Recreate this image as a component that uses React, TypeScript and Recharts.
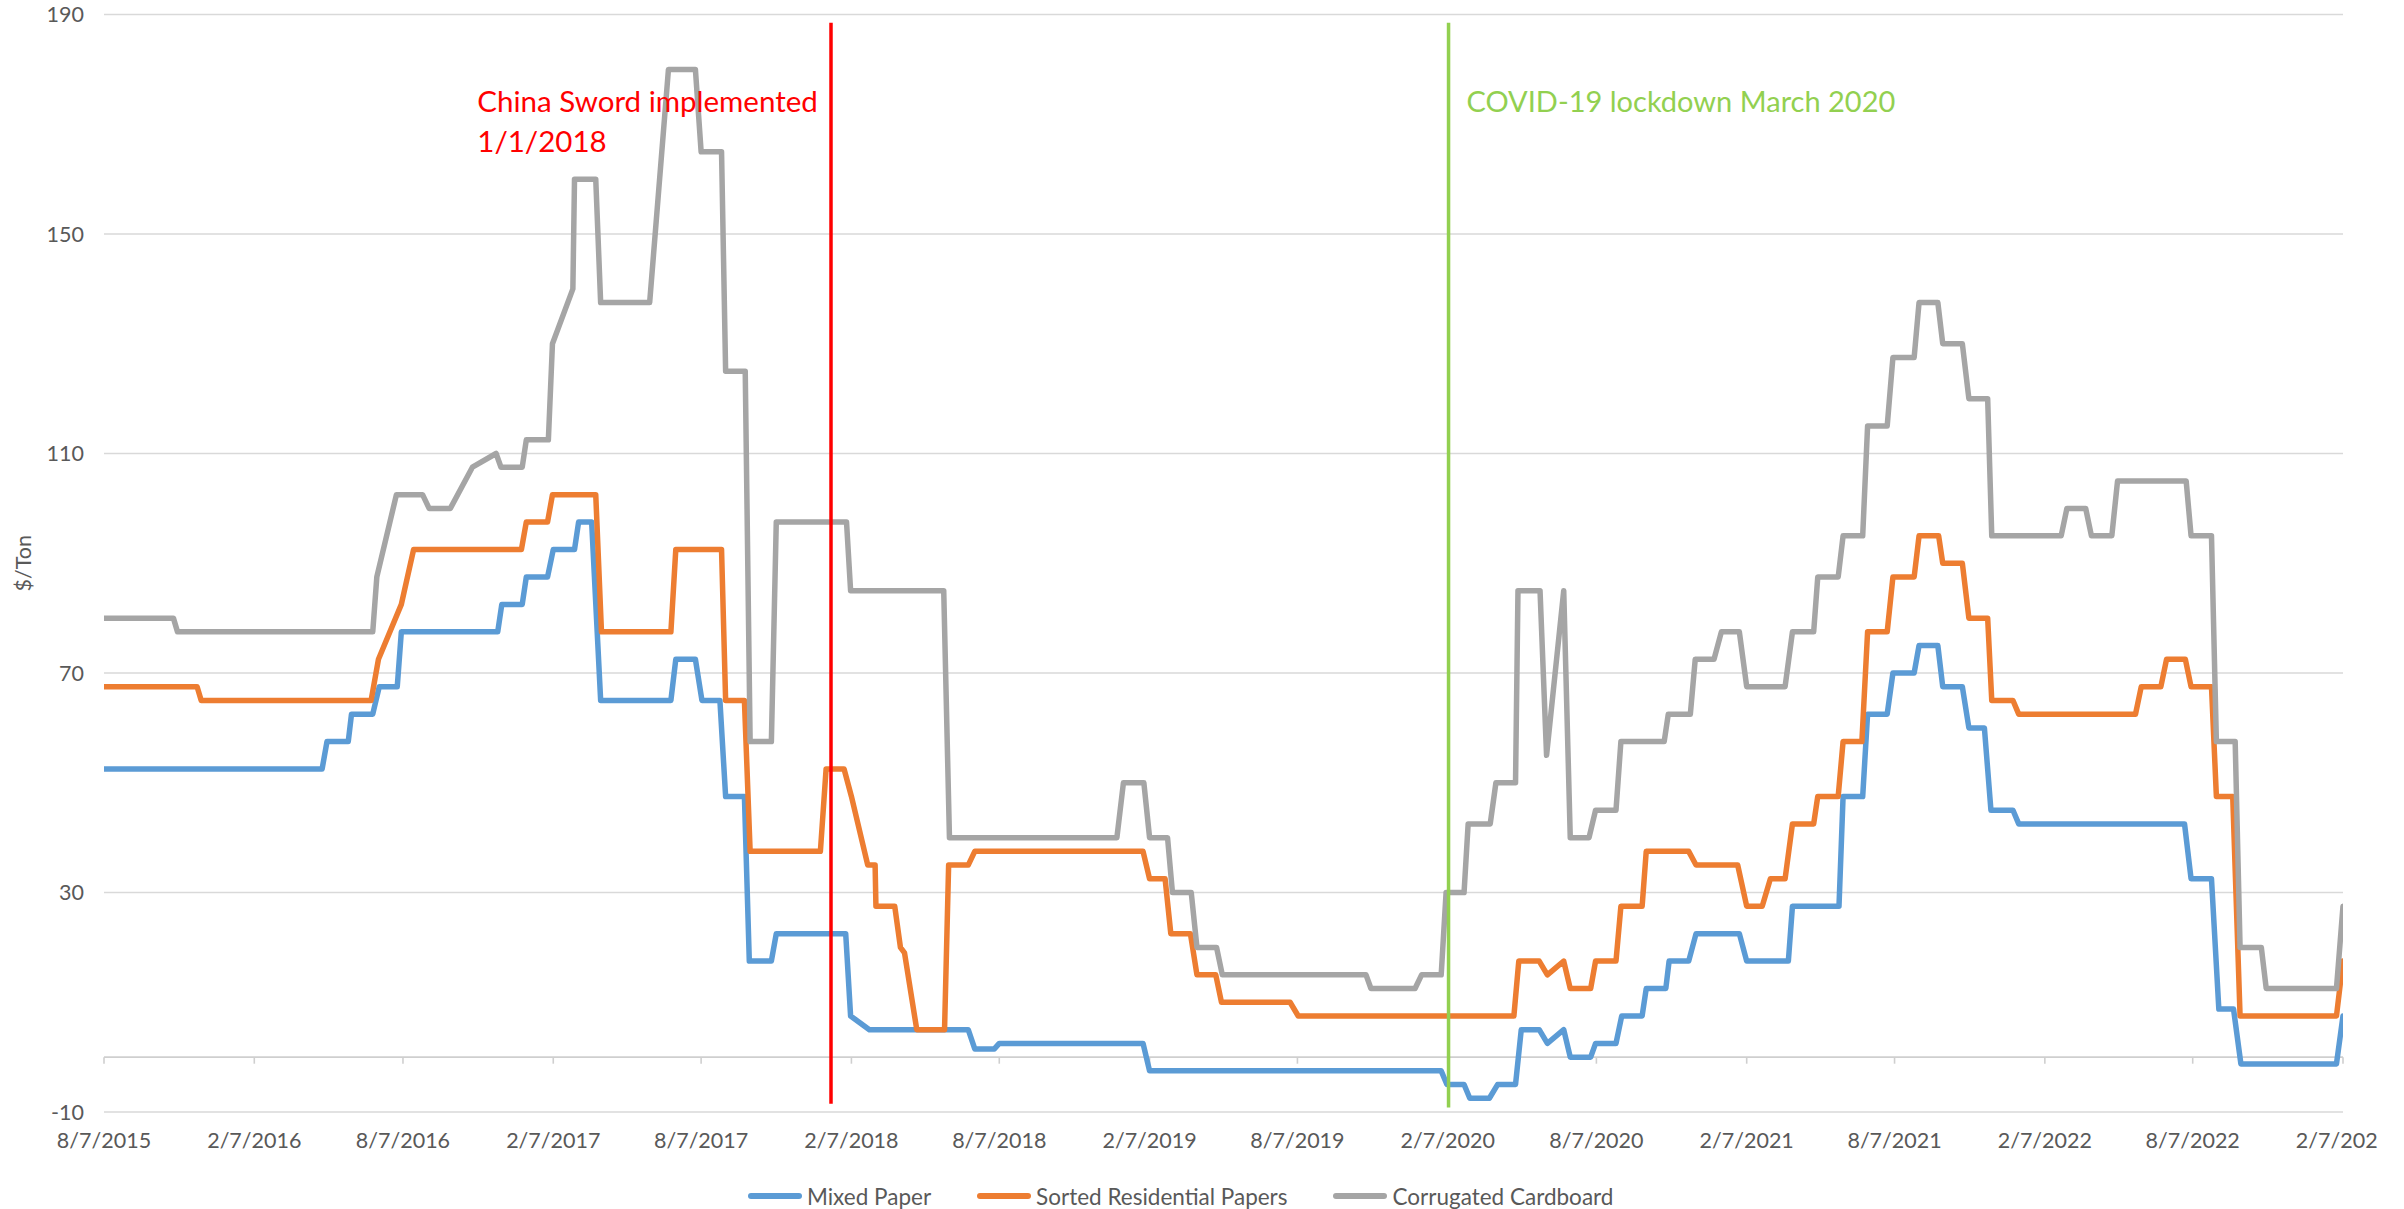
import React from "react";
import {
  LineChart,
  Line,
  XAxis,
  YAxis,
  CartesianGrid,
  Legend,
  ReferenceLine,
  ReferenceDot,
} from "recharts";

// [date, $/ton] vertices
const corrugatedRows: [string, number][] = [
  ["2015-08-07", 80], ["2015-10-31", 80], ["2015-11-05", 77.5], ["2016-07-01", 77.5],
  ["2016-07-06", 87.5], ["2016-07-30", 102.5], ["2016-08-31", 102.5], ["2016-09-08", 100],
  ["2016-10-04", 100], ["2016-10-31", 107.5], ["2016-11-29", 110], ["2016-12-05", 107.5],
  ["2016-12-31", 107.5], ["2017-01-05", 112.5], ["2017-02-01", 112.5], ["2017-02-06", 130],
  ["2017-03-03", 140], ["2017-03-05", 160], ["2017-03-31", 160], ["2017-04-06", 137.5],
  ["2017-06-05", 137.5], ["2017-06-28", 180], ["2017-07-31", 180], ["2017-08-07", 165],
  ["2017-09-01", 165], ["2017-09-06", 125], ["2017-09-30", 125], ["2017-10-06", 57.5],
  ["2017-11-01", 57.5], ["2017-11-07", 97.5], ["2018-02-01", 97.5], ["2018-02-06", 85],
  ["2018-05-31", 85], ["2018-06-07", 40], ["2018-12-29", 40], ["2019-01-06", 50],
  ["2019-01-31", 50], ["2019-02-07", 40], ["2019-03-01", 40], ["2019-03-07", 30],
  ["2019-03-30", 30], ["2019-04-06", 20], ["2019-04-30", 20], ["2019-05-07", 15],
  ["2019-10-30", 15], ["2019-11-05", 12.5], ["2019-12-29", 12.5], ["2020-01-06", 15],
  ["2020-01-30", 15], ["2020-02-05", 30], ["2020-02-27", 30], ["2020-03-03", 42.5],
  ["2020-03-30", 42.5], ["2020-04-06", 50], ["2020-04-30", 50], ["2020-05-03", 85],
  ["2020-05-30", 85], ["2020-06-07", 55], ["2020-06-28", 85], ["2020-07-06", 40],
  ["2020-07-29", 40], ["2020-08-06", 45], ["2020-08-31", 45], ["2020-09-06", 57.5],
  ["2020-10-29", 57.5], ["2020-11-03", 62.5], ["2020-11-30", 62.5], ["2020-12-06", 72.5],
  ["2020-12-29", 72.5], ["2021-01-07", 77.5], ["2021-01-29", 77.5], ["2021-02-07", 67.5],
  ["2021-03-26", 67.5], ["2021-04-04", 77.5], ["2021-04-30", 77.5], ["2021-05-05", 87.5],
  ["2021-05-30", 87.5], ["2021-06-05", 95], ["2021-06-29", 95], ["2021-07-05", 115],
  ["2021-07-29", 115], ["2021-08-05", 127.5], ["2021-08-31", 127.5], ["2021-09-06", 137.5],
  ["2021-09-29", 137.5], ["2021-10-05", 130], ["2021-10-29", 130], ["2021-11-06", 120],
  ["2021-11-29", 120], ["2021-12-04", 95], ["2022-02-27", 95], ["2022-03-06", 100],
  ["2022-03-29", 100], ["2022-04-05", 95], ["2022-04-30", 95], ["2022-05-07", 105],
  ["2022-07-30", 105], ["2022-08-05", 95], ["2022-08-30", 95], ["2022-09-05", 57.5],
  ["2022-09-28", 57.5], ["2022-10-04", 20], ["2022-10-30", 20], ["2022-11-05", 12.5],
  ["2023-01-30", 12.5], ["2023-02-07", 27.5],
];

const sortedRows: [string, number][] = [
  ["2015-08-07", 67.5], ["2015-11-29", 67.5], ["2015-12-04", 65], ["2016-06-29", 65],
  ["2016-07-08", 72.5], ["2016-08-05", 82.5], ["2016-08-20", 92.5], ["2016-12-30", 92.5],
  ["2017-01-05", 97.5], ["2017-01-31", 97.5], ["2017-02-06", 102.5], ["2017-03-31", 102.5],
  ["2017-04-07", 77.5], ["2017-07-01", 77.5], ["2017-07-07", 92.5], ["2017-09-01", 92.5],
  ["2017-09-06", 65], ["2017-09-29", 65], ["2017-10-06", 37.5], ["2017-12-31", 37.5],
  ["2018-01-07", 52.5], ["2018-01-29", 52.5], ["2018-02-07", 47.5], ["2018-02-27", 35],
  ["2018-03-08", 35], ["2018-03-09", 27.5], ["2018-04-01", 27.5], ["2018-04-08", 20],
  ["2018-04-13", 19], ["2018-04-28", 5], ["2018-06-01", 5], ["2018-06-06", 35],
  ["2018-06-30", 35], ["2018-07-08", 37.5], ["2019-01-30", 37.5], ["2019-02-07", 32.5],
  ["2019-02-26", 32.5], ["2019-03-05", 22.5], ["2019-03-29", 22.5], ["2019-04-06", 15],
  ["2019-04-29", 15], ["2019-05-06", 10], ["2019-07-29", 10], ["2019-08-08", 7.5],
  ["2020-04-28", 7.5], ["2020-05-04", 17.5], ["2020-05-29", 17.5], ["2020-06-08", 15],
  ["2020-06-28", 17.5], ["2020-07-06", 12.5], ["2020-07-31", 12.5], ["2020-08-06", 17.5],
  ["2020-08-31", 17.5], ["2020-09-06", 27.5], ["2020-10-02", 27.5], ["2020-10-07", 37.5],
  ["2020-11-28", 37.5], ["2020-12-07", 35], ["2021-01-27", 35], ["2021-02-07", 27.5],
  ["2021-02-26", 27.5], ["2021-03-08", 32.5], ["2021-03-26", 32.5], ["2021-04-04", 42.5],
  ["2021-04-30", 42.5], ["2021-05-05", 47.5], ["2021-05-30", 47.5], ["2021-06-05", 57.5],
  ["2021-06-28", 57.5], ["2021-07-05", 77.5], ["2021-07-29", 77.5], ["2021-08-05", 87.5],
  ["2021-08-31", 87.5], ["2021-09-06", 95], ["2021-09-30", 95], ["2021-10-05", 90],
  ["2021-10-29", 90], ["2021-11-06", 80], ["2021-11-29", 80], ["2021-12-04", 65],
  ["2021-12-30", 65], ["2022-01-06", 62.5], ["2022-05-29", 62.5], ["2022-06-05", 67.5],
  ["2022-06-29", 67.5], ["2022-07-06", 72.5], ["2022-07-29", 72.5], ["2022-08-05", 67.5],
  ["2022-08-30", 67.5], ["2022-09-05", 47.5], ["2022-09-25", 47.5], ["2022-10-04", 7.5],
  ["2023-01-30", 7.5], ["2023-02-07", 17.5],
];

const mixedRows: [string, number][] = [
  ["2015-08-07", 52.5], ["2016-04-30", 52.5], ["2016-05-06", 57.5], ["2016-06-01", 57.5],
  ["2016-06-05", 62.5], ["2016-07-01", 62.5], ["2016-07-09", 67.5], ["2016-07-31", 67.5],
  ["2016-08-05", 77.5], ["2016-12-01", 77.5], ["2016-12-06", 82.5], ["2016-12-31", 82.5],
  ["2017-01-05", 87.5], ["2017-01-31", 87.5], ["2017-02-07", 92.5], ["2017-03-05", 92.5],
  ["2017-03-10", 97.5], ["2017-03-26", 97.5], ["2017-04-06", 65], ["2017-07-01", 65],
  ["2017-07-07", 72.5], ["2017-07-31", 72.5], ["2017-08-08", 65], ["2017-08-30", 65],
  ["2017-09-06", 47.5], ["2017-09-29", 47.5], ["2017-10-05", 17.5], ["2017-11-01", 17.5],
  ["2017-11-07", 22.5], ["2018-01-31", 22.5], ["2018-02-06", 7.5], ["2018-03-01", 5],
  ["2018-06-30", 5], ["2018-07-08", 1.5], ["2018-08-01", 1.5], ["2018-08-07", 2.5],
  ["2019-01-30", 2.5], ["2019-02-07", -2.5], ["2020-01-30", -2.5], ["2020-02-06", -5],
  ["2020-02-27", -5], ["2020-03-05", -7.5], ["2020-03-29", -7.5], ["2020-04-08", -5],
  ["2020-04-30", -5], ["2020-05-07", 5], ["2020-05-29", 5], ["2020-06-08", 2.5],
  ["2020-06-28", 5], ["2020-07-06", 0], ["2020-07-31", 0], ["2020-08-06", 2.5],
  ["2020-08-31", 2.5], ["2020-09-07", 7.5], ["2020-10-02", 7.5], ["2020-10-07", 12.5],
  ["2020-10-31", 12.5], ["2020-11-04", 17.5], ["2020-11-28", 17.5], ["2020-12-07", 22.5],
  ["2021-01-29", 22.5], ["2021-02-07", 17.5], ["2021-03-30", 17.5], ["2021-04-04", 27.5],
  ["2021-05-31", 27.5], ["2021-06-05", 47.5], ["2021-06-29", 47.5], ["2021-07-05", 62.5],
  ["2021-07-29", 62.5], ["2021-08-05", 70], ["2021-08-31", 70], ["2021-09-06", 75],
  ["2021-09-29", 75], ["2021-10-05", 67.5], ["2021-10-29", 67.5], ["2021-11-06", 60],
  ["2021-11-25", 60], ["2021-12-03", 45], ["2021-12-30", 45], ["2022-01-06", 42.5],
  ["2022-07-28", 42.5], ["2022-08-05", 32.5], ["2022-08-30", 32.5], ["2022-09-08", 8.75],
  ["2022-09-26", 8.75], ["2022-10-05", -1.25], ["2023-01-30", -1.25], ["2023-02-07", 7.5],
];

const seriesNames = ["Mixed Paper", "Sorted Residential Papers", "Corrugated Cardboard"];
const seriesColors = ["#5B9BD5", "#ED7D31", "#A5A5A5"];

const tickDates = [
  "2015-08-07", "2016-02-07", "2016-08-07", "2017-02-07", "2017-08-07", "2018-02-07",
  "2018-08-07", "2019-02-07", "2019-08-07", "2020-02-07", "2020-08-07", "2021-02-07",
  "2021-08-07", "2022-02-07", "2022-08-07", "2023-02-07",
];
const yTicks = [-10, 30, 70, 110, 150, 190];

const swordDate = "2018-01-13";
const covidDate = "2020-02-08";

const toTime = (d: string) => Date.parse(d);
const toPoints = (rows: [string, number][]) => rows.map(([d, v]) => ({ t: toTime(d), v }));

const seriesData = [toPoints(mixedRows), toPoints(sortedRows), toPoints(corrugatedRows)];
const ticks = tickDates.map(toTime);

const GREY_TEXT = "#595959";
const GRID = "#d9d9d9";
const FONT = 21.5;

function fmtDate(t: number) {
  const d = new Date(t);
  return `${d.getUTCMonth() + 1}/${d.getUTCDate()}/${d.getUTCFullYear()}`;
}

function LegendContent(props: any) {
  const { payload = [] } = props;
  const items = [...payload].sort(
    (a: any, b: any) => seriesNames.indexOf(a.value) - seriesNames.indexOf(b.value)
  );
  return (
    <div style={{ display: "flex", alignItems: "center", height: 40, paddingLeft: 748 }}>
      {items.map((p: any) => (
        <div key={p.value} style={{ display: "flex", alignItems: "center", marginRight: 46 }}>
          <svg width={54} height={10}>
            <line x1={3} x2={51} y1={5} y2={5} stroke={p.color} strokeWidth={6} strokeLinecap='round' />
          </svg>
          <span style={{ marginLeft: 5, fontSize: 22.5, color: GREY_TEXT }}>{p.value}</span>
        </div>
      ))}
    </div>
  );
}

function NoteLabel(props: any) {
  const { viewBox, lines, color, size } = props;
  const x = viewBox.x + viewBox.width / 2;
  const y = viewBox.y + viewBox.height / 2;
  return (
    <text x={x} y={y} fill={color} fontSize={size} textAnchor='start'>
      {lines.map((l: string, i: number) => (
        <tspan key={i} x={x} dy={i === 0 ? 0 : 40}>
          {l}
        </tspan>
      ))}
    </text>
  );
}

function YLabel(props: any) {
  const { viewBox } = props;
  const cx = viewBox.x + 23;
  const cy = viewBox.y + viewBox.height / 2;
  return (
    <text
      x={cx}
      y={cy}
      transform={`rotate(-90, ${cx}, ${cy})`}
      textAnchor='middle'
      dominantBaseline='central'
      fill={GREY_TEXT}
      fontSize={FONT}
    >
      $/Ton
    </text>
  );
}

export default function App() {
  return (
    <div style={{ position: "absolute", left: 0, top: 0, width: 2404, height: 1209, background: "#fff", fontFamily: "Lato, sans-serif" }}>
      <LineChart width={2378} height={1209} margin={{ top: 14.5, right: 35, bottom: 27, left: 0 }}>
        <CartesianGrid vertical={false} stroke={GRID} strokeWidth={1.6} />
        <XAxis
          dataKey='t'
          type='number'
          domain={[ticks[0], ticks[ticks.length - 1]]}
          ticks={ticks}
          interval={0}
          tickFormatter={fmtDate}
          axisLine={false}
          tickLine={false}
          tickMargin={15}
          height={30}
          tick={{ fill: GREY_TEXT, fontSize: FONT }}
          allowDataOverflow
        />
        <YAxis
          domain={[-10, 190]}
          ticks={yTicks}
          interval={0}
          axisLine={false}
          tickLine={false}
          width={104}
          tickMargin={14}
          tick={{ fill: GREY_TEXT, fontSize: FONT }}
          label={<YLabel />}
        />
        <ReferenceLine y={0} stroke='#cfcfcf' strokeWidth={1.6} />
        {ticks.map((t) => (
          <ReferenceLine
            key={t}
            segment={[{ x: t, y: 0 }, { x: t, y: -1.2 }]}
            stroke='#cfcfcf'
            strokeWidth={1.6}
          />
        ))}
        <Legend
          verticalAlign='bottom'
          height={40}
          itemSorter={null as any}
          wrapperStyle={{ left: 0, top: 1176, bottom: "auto", width: 2378, height: 40 }}
          content={<LegendContent />}
        />
        {seriesNames.map((name, i) => (
          <Line
            key={name}
            data={seriesData[i]}
            dataKey='v'
            name={name}
            stroke={seriesColors[i]}
            strokeWidth={5.5}
            dot={false}
            strokeLinejoin='round'
            strokeLinecap='round'
            isAnimationActive={false}
          />
        ))}
        <ReferenceLine
          segment={[{ x: toTime(swordDate), y: 188.5 }, { x: toTime(swordDate), y: -8.5 }]}
          stroke='#FF0000'
          strokeWidth={3.5}
        />
        <ReferenceLine
          segment={[{ x: toTime(covidDate), y: 188.5 }, { x: toTime(covidDate), y: -9.2 }]}
          stroke='#92D050'
          strokeWidth={3.5}
        />
        <ReferenceDot
          x={toTime("2016-11-06")}
          y={172.2}
          r={1}
          fill='none'
          stroke='none'
          label={<NoteLabel lines={["China Sword implemented", "1/1/2018"]} color='#FF0000' size={29.5} />}
        />
        <ReferenceDot
          x={toTime("2020-03-01")}
          y={172.2}
          r={1}
          fill='none'
          stroke='none'
          label={<NoteLabel lines={["COVID-19 lockdown March 2020"]} color='#92D050' size={29} />}
        />
      </LineChart>
    </div>
  );
}
